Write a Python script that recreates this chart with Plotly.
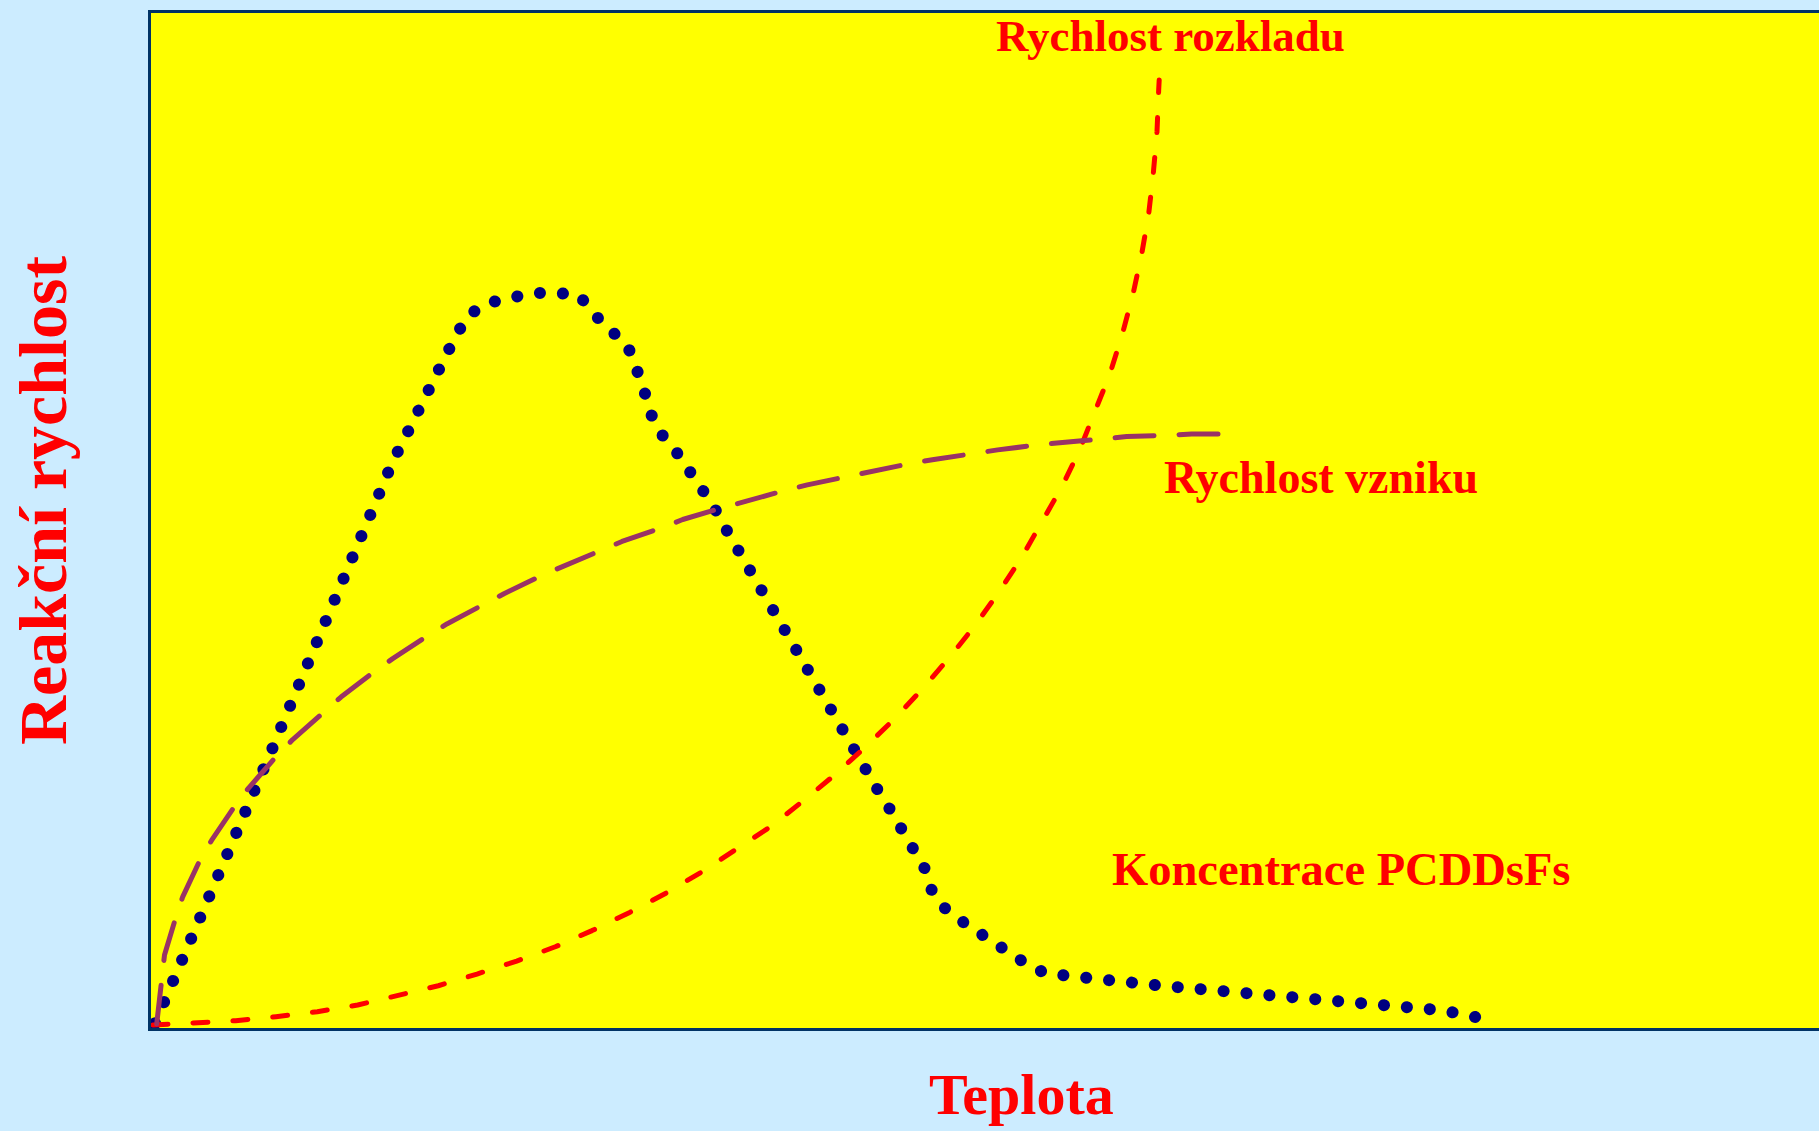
import plotly.graph_objects as go

# ---- data (arbitrary units: x = temperature, y = reaction rate) ----
konc_x = [0.4, 1.33, 2.23, 3.17, 4.07, 5.0, 5.93, 6.83, 7.77, 8.7, 9.6, 10.53, 11.43, 12.37,
          13.27, 14.17, 15.07, 15.97, 16.87, 17.77, 18.67, 19.53, 20.43, 21.33, 22.2, 23.13,
          24.2, 25.3, 26.27, 27.3, 28.37, 29.47, 30.53, 31.73, 33.7, 35.9, 38.13, 40.47, 42.77,
          44.13, 45.73, 47.57, 48.53, 49.23, 49.8, 50.73, 52.23, 53.6, 54.97, 56.17, 57.33,
          58.5, 59.67, 60.83, 61.97, 63.13, 64.3, 65.47, 66.63, 67.8, 68.97, 70.17, 71.43,
          72.67, 73.93, 75.17, 76.43, 77.47, 78.13, 79.57, 81.5, 83.4, 85.33, 87.37, 89.43,
          91.74, 94.03, 96.37, 98.7, 101.04, 103.37, 105.74, 108.08, 110.45, 112.79, 115.12,
          117.45, 119.83, 122.16, 124.5, 126.87, 129.16, 131.46, 133.8, 134.3]
konc_y = [0.47, 2.6, 4.77, 6.93, 9.07, 11.23, 13.4, 15.57, 17.73, 19.9, 22.07, 24.2, 26.4,
          28.53, 30.73, 32.9, 35.07, 37.23, 39.43, 41.6, 43.8, 45.97, 48.13, 50.3, 52.5, 54.63,
          56.77, 58.9, 61.0, 63.1, 65.2, 67.27, 69.37, 71.37, 72.57, 73.13, 73.57, 73.57, 73.4,
          71.67, 69.97, 68.53, 66.4, 64.17, 61.93, 59.8, 58.1, 56.2, 54.33, 52.37, 50.23,
          48.2, 46.17, 44.13, 42.07, 40.03, 38.0, 35.97, 33.9, 31.87, 29.83, 27.8, 25.8,
          23.83, 21.83, 19.83, 17.83, 15.8, 13.6, 11.77, 10.4, 9.07, 7.7, 6.53, 5.47,
          5.2, 4.8, 4.6, 4.4, 4.23, 4.03, 3.83, 3.67, 3.5, 3.3, 3.1, 2.9, 2.73, 2.53, 2.33,
          2.13, 1.77, 1.3, 0.83, 0.72]

rozklad_x = [0.2, 4.4, 8.47, 12.5, 16.63, 20.67, 24.73, 28.73, 32.6, 36.57, 40.43, 44.1,
             47.87, 51.5, 55.03, 58.5, 61.93, 65.13, 68.33, 71.37, 74.3, 77.1, 79.83, 82.35,
             84.77, 87.03, 89.1, 91.1, 92.85, 94.38, 95.9, 97.13, 98.2, 99.07, 99.77, 100.23,
             100.6, 100.77, 100.82]
rozklad_y = [0.3, 0.47, 0.73, 1.13, 1.63, 2.3, 3.23, 4.23, 5.4, 6.7, 8.13, 9.75, 11.57,
             13.5, 15.6, 17.83, 20.13, 22.67, 25.3, 28.07, 30.9, 33.9, 37.07, 40.23, 43.6,
             47.04, 50.58, 54.2, 57.83, 61.57, 65.5, 69.44, 73.46, 77.47, 81.5, 85.55, 89.72,
             93.93, 94.9]

vznik_x = [0.57, 1.0, 1.35, 2.45, 3.17, 4.97, 6.07, 8.5, 9.8, 12.63, 14.17, 17.3, 19.0,
           22.4, 24.17, 27.73, 29.63, 33.4, 35.3, 39.23, 41.17, 45.13, 47.1, 51.23, 53.17,
           57.33, 59.4, 63.63, 65.63, 69.9, 71.97, 76.23, 78.3, 82.57, 84.67, 89.0, 91.13,
           95.5, 97.57, 101.9, 104.07, 108.4]
vznik_y = [0.4, 4.8, 7.3, 10.97, 13.13, 16.97, 18.8, 22.4, 24.07, 27.3, 28.87, 31.63, 33.13,
           35.73, 36.97, 39.3, 40.47, 42.47, 43.47, 45.37, 46.2, 47.9, 48.7, 50.13, 50.9,
           52.13, 52.73, 53.87, 54.37, 55.3, 55.73, 56.57, 56.9, 57.57, 57.87, 58.4, 58.6,
           58.97, 59.2, 59.33, 59.47, 59.47]

labels = ["Rychlost rozkladu", "Rychlost vzniku", "Koncentrace PCDDsFs"]
label_x = [101.9, 117.0, 119.0]
label_y = [99.3, 55.1, 15.9]
x_title = "Teplota"
y_title = "Reakční rychlost"

RED = "#FF0000"
PURPLE = "#993366"
NAVY = "#000080"
FONT = "Liberation Serif"

fig = go.Figure()
fig.add_trace(go.Scatter(x=konc_x, y=konc_y, mode="lines", cliponaxis=False,
                         line=dict(color=NAVY, width=12, dash="0.1px,22.9px"),
                         hoverinfo="skip", showlegend=False))
fig.add_trace(go.Scatter(x=rozklad_x, y=rozklad_y, mode="lines", cliponaxis=False,
                         line=dict(color=RED, width=5, dash="15px,25px"),
                         hoverinfo="skip", showlegend=False))
fig.add_trace(go.Scatter(x=vznik_x, y=vznik_y, mode="lines", cliponaxis=False,
                         line=dict(color=PURPLE, width=5, dash="39px,25px"),
                         hoverinfo="skip", showlegend=False))

sizes = [45, 46, 46.5]
for t, lx, ly, s in zip(labels, label_x, label_y, sizes):
    fig.add_annotation(x=lx, y=ly, xref="x", yref="y", text="<b>%s</b>" % t,
                       showarrow=False, xanchor="center", yanchor="middle",
                       font=dict(family=FONT, size=s, color=RED))

fig.add_annotation(x=0.522, y=-0.066, xref="paper", yref="paper",
                   text="<b>%s</b>" % x_title, showarrow=False,
                   xanchor="center", yanchor="middle",
                   font=dict(family=FONT, size=58, color=RED))
fig.add_annotation(x=-0.0648, y=0.52, xref="paper", yref="paper",
                   text="<b>%s</b>" % y_title, showarrow=False, textangle=-90,
                   xanchor="center", yanchor="middle",
                   font=dict(family=FONT, size=68, color=RED))

axis_common = dict(showgrid=False, zeroline=False, showticklabels=False, ticks="",
                   showline=True, linecolor="#003366", linewidth=3, fixedrange=True)
fig.update_xaxes(range=[0, 166.8], mirror=True, **axis_common)
fig.update_yaxes(range=[0, 101.6], mirror=False, **axis_common)

fig.update_layout(width=1819, height=1131,
                  margin=dict(l=151, r=0, t=13, b=103, pad=0),
                  paper_bgcolor="#CCECFF", plot_bgcolor="#FFFF00",
                  showlegend=False)

post = """
document.body.style.margin = '0';
document.body.style.overflow = 'hidden';
var gd = document.getElementById('{plot_id}');
gd.querySelectorAll('.scatterlayer path.js-line').forEach(function(p){
  p.style.strokeLinecap = 'round';
  p.style.strokeLinejoin = 'round';
});
"""
fig.write_html("out.html", config={"displayModeBar": False}, post_script=post)
